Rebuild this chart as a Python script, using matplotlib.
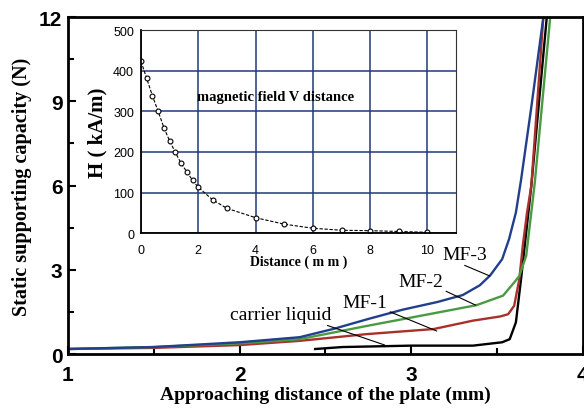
import matplotlib
matplotlib.use('Agg')
import matplotlib.pyplot as plt
from matplotlib.ticker import MultipleLocator

# main curves: approaching distance (mm) vs static supporting capacity (N)
x_mf3 = [1.0, 1.5, 2.0, 2.35, 2.55, 2.75, 2.95, 3.15, 3.3, 3.4, 3.46, 3.53, 3.57, 3.61, 3.64, 3.70, 3.77]
y_mf3 = [0.18, 0.25, 0.42, 0.6, 0.9, 1.25, 1.58, 1.85, 2.1, 2.45, 2.8, 3.38, 4.09, 5.04, 6.2, 8.8, 12.0]

x_mf2 = [1.0, 1.5, 2.0, 2.35, 2.74, 3.13, 3.38, 3.535, 3.6, 3.63, 3.67, 3.72, 3.81]
y_mf2 = [0.18, 0.25, 0.38, 0.53, 1.0, 1.45, 1.74, 2.08, 2.55, 2.78, 3.5, 6.1, 12.0]

x_mf1 = [1.0, 1.5, 2.0, 2.35, 2.74, 3.13, 3.36, 3.52, 3.565, 3.6, 3.63, 3.65, 3.675, 3.70, 3.735, 3.77]
y_mf1 = [0.18, 0.22, 0.32, 0.47, 0.71, 0.89, 1.19, 1.34, 1.42, 1.72, 2.67, 3.85, 5.04, 6.0, 9.0, 12.0]

x_carrier = [2.44, 2.6, 3.0, 3.36, 3.53, 3.574, 3.61, 3.64, 3.70, 3.79]
y_carrier = [0.18, 0.25, 0.3, 0.3, 0.42, 0.53, 1.13, 2.67, 6.0, 12.0]

# inset: magnetic field vs distance
dist = [0, 0.2, 0.4, 0.6, 0.8, 1.0, 1.2, 1.4, 1.6, 1.8, 2.0, 2.5, 3, 4, 5, 6, 7, 8, 9, 10]
field = [423, 381, 338, 300, 260, 227, 199, 172, 151, 130, 113, 82, 61, 38, 22, 12, 7, 6, 4, 2]

serif_b = dict(family='Liberation Serif', fontweight='bold')

fig = plt.figure(figsize=(5.84, 4.10), dpi=100)
ax = fig.add_axes([0.1164, 0.134, 0.8816, 0.822])

ax.plot(x_carrier, y_carrier, color='black', lw=1.7)
ax.plot(x_mf1, y_mf1, color='#a8312b', lw=1.7)
ax.plot(x_mf2, y_mf2, color='#4a9a44', lw=1.7)
ax.plot(x_mf3, y_mf3, color='#223f8c', lw=1.7)

ax.set_xlim(1, 4)
ax.set_ylim(0, 12)
ax.xaxis.set_major_locator(MultipleLocator(1))
ax.xaxis.set_minor_locator(MultipleLocator(0.5))
ax.yaxis.set_major_locator(MultipleLocator(3))
ax.yaxis.set_minor_locator(MultipleLocator(1.5))
ax.tick_params(which='both', direction='in', width=1.5, top=False, right=False)
ax.tick_params(which='major', length=6)
ax.tick_params(which='minor', length=4.5)
ax.tick_params(axis='x', pad=8)
ax.tick_params(axis='y', pad=4)
for lab in ax.get_xticklabels() + ax.get_yticklabels():
    lab.set_fontfamily('Liberation Sans')
    lab.set_fontweight('bold')
    lab.set_fontsize(15)
for s in ax.spines.values():
    s.set_linewidth(2)

ax.set_xlabel('Approaching distance of the plate (mm)', fontsize=14, labelpad=1, **serif_b)
ax.set_ylabel('Static supporting capacity (N)', fontsize=14.5, labelpad=5, **serif_b)

line_kw = dict(arrowstyle='-', lw=0.8, color='black', shrinkA=0, shrinkB=0)
ax.annotate('carrier liquid', xy=(2.846, 0.32), xytext=(2.24, 1.42), ha='center', va='center',
            family='Liberation Serif', fontsize=14, arrowprops=dict(relpos=(0.83, 0.1), **line_kw))
ax.annotate('MF-1', xy=(3.149, 0.82), xytext=(2.73, 1.85), ha='center', va='center',
            family='Liberation Serif', fontsize=14, arrowprops=dict(relpos=(0.9, 0.1), **line_kw))
ax.annotate('MF-2', xy=(3.376, 1.74), xytext=(3.056, 2.60), ha='center', va='center',
            family='Liberation Serif', fontsize=14, arrowprops=dict(relpos=(0.9, 0.1), **line_kw))
ax.annotate('MF-3', xy=(3.458, 2.78), xytext=(3.312, 3.56), ha='center', va='center',
            family='Liberation Serif', fontsize=14, arrowprops=dict(relpos=(0.26, 0.1), **line_kw))

# inset
ins = fig.add_axes([0.2414, 0.429, 0.5396, 0.495])
ins.plot(dist, field, color='black', lw=0.8, linestyle=(0, (3, 1.5)),
         marker='o', markersize=3.5, markerfacecolor='white', markeredgecolor='black',
         markeredgewidth=0.8)
ins.set_xlim(0, 11)
ins.set_ylim(0, 500)
ins.set_xticks([0, 2, 4, 6, 8, 10])
ins.set_yticks([0, 100, 200, 300, 400, 500])
ins.grid(True, color='#1f3a7a', lw=1.1)
ins.set_axisbelow(True)
ins.tick_params(length=0, labelsize=9)
ins.tick_params(axis='x', pad=8)
ins.tick_params(axis='y', pad=5)
for lab in ins.get_xticklabels() + ins.get_yticklabels():
    lab.set_fontfamily('Liberation Sans')
ins.spines['left'].set_linewidth(1.3)
ins.spines['bottom'].set_linewidth(1.3)
ins.spines['top'].set_color('#333333')
ins.spines['right'].set_color('#333333')
ins.set_xlabel('Distance ( m m )', fontsize=10, labelpad=-1, **serif_b)
ins.set_ylabel('H ( kA/m)', fontsize=15, labelpad=4, **serif_b)
ins.text(1.96, 337, 'magnetic field V distance', ha='left', va='center', fontsize=10.5, **serif_b)

fig.savefig('out.png', dpi=100)
